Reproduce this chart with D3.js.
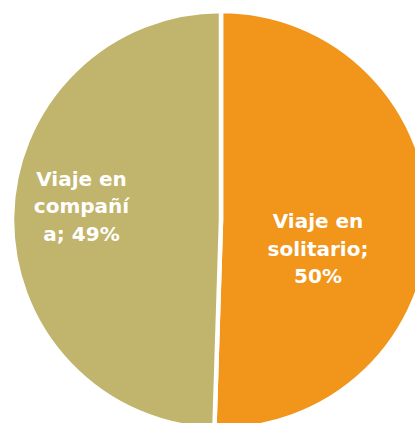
<!DOCTYPE html>
<html>
<head>
<meta charset="utf-8">
<script src="https://cdn.jsdelivr.net/npm/d3@7"></script>
<style>
  html, body { margin: 0; padding: 0; background: #fff; }
</style>
</head>
<body>
<div id="chart"></div>
<script>
// Chart data
var categories = ["Viaje en solitario", "Viaje en compañía"];
var values = [50.4, 49.4];
var labelLines = [
    ["Viaje en", "solitario;", "50%"],
    ["Viaje en", "compañí", "a; 49%"]
];
var colors = ["#F1951B", "#C1B46C"];

// SVG area
var svgWidth = 415;
var svgHeight = 423;
var cx = 221, cy = 220, radius = 209;

var svg = d3.select("#chart")
    .append("svg")
    .attr("width", svgWidth)
    .attr("height", svgHeight);

var pieGroup = svg.append("g")
    .attr("transform", `translate(${cx}, ${cy})`);

var pie = d3.pie().sort(null).value(d => d);
var arcs = pie(values);

var arc = d3.arc().innerRadius(0).outerRadius(radius);
var labelArc = d3.arc().innerRadius(radius * 0.5).outerRadius(radius * 0.5);

// Slices
pieGroup.selectAll("path")
    .data(arcs)
    .enter()
    .append("path")
    .attr("d", arc)
    .attr("fill", (d, i) => colors[i])
    .attr("stroke", "#fff")
    .attr("stroke-width", 4.5);

// label nudges from the centroid
var nudge = [[-7.5, 34], [-35, -5]];
var lineHeight = 27.5;

var labels = pieGroup.selectAll("text.label")
    .data(arcs)
    .enter()
    .append("text")
    .attr("class", "label")
    .attr("text-anchor", "middle")
    .attr("font-family", "DejaVu Sans, sans-serif")
    .attr("font-size", "20px")
    .attr("font-weight", "bold")
    .attr("fill", "#fff")
    .attr("transform", function(d, i) {
        var c = labelArc.centroid(d);
        return "translate(" + (c[0] + nudge[i][0]) + "," + (c[1] + nudge[i][1]) + ")";
    });

labels.each(function(d, i) {
    var lines = labelLines[i];
    d3.select(this).selectAll("tspan")
        .data(lines)
        .enter()
        .append("tspan")
        .attr("x", 0)
        .attr("y", (t, j) => (j - (lines.length - 1) / 2) * lineHeight)
        .text(t => t);
});
</script>
</body>
</html>
